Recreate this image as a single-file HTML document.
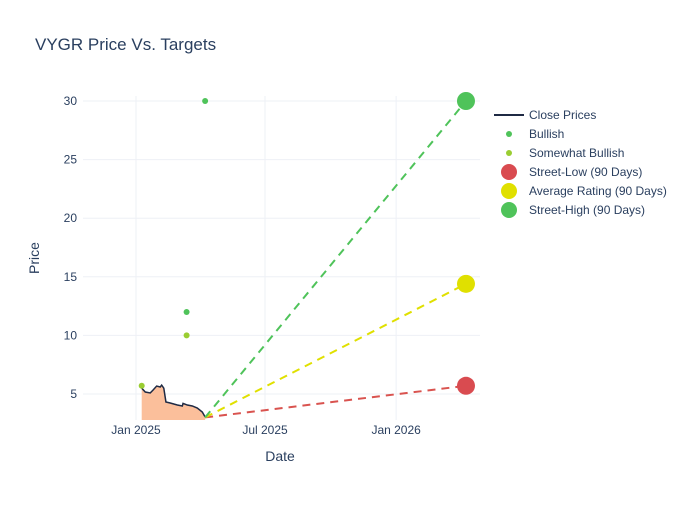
<!DOCTYPE html>
<html><head><meta charset="utf-8"><style>
body{margin:0;background:#fff;font-family:"Liberation Sans",sans-serif;}
svg text{font-family:"Liberation Sans",sans-serif;fill:#2a3f5f;}
</style></head><body>
<svg id="c" width="700" height="500">
<text x="35" y="50" font-size="17">VYGR Price Vs. Targets</text>
<g id="grid"></g><g id="marks"></g><g id="axes"></g>
<text x="280" y="461" font-size="14" text-anchor="middle">Date</text>
<text x="39" y="258" font-size="14" text-anchor="middle" transform="rotate(-90 39 258)">Price</text>
<g id="legend"></g>
</svg>
<script>
const closeDates=["2025-01-09","2025-01-14","2025-01-21","2025-01-25","2025-01-30","2025-02-04","2025-02-06","2025-02-09","2025-02-12","2025-02-18","2025-02-28","2025-03-07","2025-03-08","2025-03-14","2025-03-21","2025-03-28","2025-04-04","2025-04-08"];
const closeValues=[5.5,5.17,5.09,5.34,5.68,5.6,5.76,5.5,4.32,4.23,4.06,3.98,4.2,4.06,3.98,3.8,3.46,3.04];
const bullishDates=["2025-03-13","2025-04-08"];
const bullishValues=[12,30];
const somewhatDates=["2025-01-09","2025-03-13"];
const somewhatValues=[5.7,10];
const targetStart=["2025-04-08",3.0];
const targetDate="2026-04-09";
const targetLow=5.7, targetAvg=14.4, targetHigh=30;
const yTicks=[5,10,15,20,25,30];
const xTicks=["2025-01-01","2025-07-01","2026-01-01"];
const xTickLabels=["Jan 2025","Jul 2025","Jan 2026"];

const NS="http://www.w3.org/2000/svg";
const L=83,R=480,T=101,B=420;
const d0=Date.parse("2025-01-01");
function day(s){return (Date.parse(s)-d0)/864e5;}
function X(s){return 136+day(s)*(129/181);}
function Y(v){return 101+(30-v)*(58.6/5);}
function el(tag,attrs,parent){const e=document.createElementNS(NS,tag);for(const k in attrs)e.setAttribute(k,attrs[k]);parent.appendChild(e);return e;}
const grid=document.getElementById('grid'),marks=document.getElementById('marks'),axes=document.getElementById('axes'),leg=document.getElementById('legend');
yTicks.forEach(v=>{
 const l=el('line',{x1:L,x2:R,y1:Y(v),y2:Y(v),stroke:'#eef0f6'},grid);
 
 
 const t=el('text',{x:77,y:Y(v)+4,'font-size':12,'text-anchor':'end'},axes);t.textContent=v;
 
 
});
xTicks.forEach((d,i)=>{
 const l=el('line',{x1:X(d),x2:X(d),y1:T-5,y2:B,stroke:'#eef0f6'},grid);
 
 
 const t=el('text',{x:X(d),y:B+14,'font-size':12,'text-anchor':'middle'},axes);t.textContent=xTickLabels[i];
 
 
});
// area + line
let pts=closeDates.map((d,i)=>X(d)+','+Y(closeValues[i]));
const area=el('polygon',{points:X(closeDates[0])+','+B+' '+pts.join(' ')+' '+X(closeDates[closeDates.length-1])+','+B,fill:'#fbbf9b'},marks);


const line=el('polyline',{points:pts.join(' '),fill:'none',stroke:'#1f2a44','stroke-width':1.5},marks);


// target lines
[[targetLow,'#d9534f','street-low'],[targetAvg,'#e0e000','average-rating'],[targetHigh,'#4fc35a','street-high']].forEach(([v,c,n])=>{
 const l=el('line',{x1:X(targetStart[0]),y1:Y(targetStart[1]),x2:X(targetDate),y2:Y(v),stroke:c,'stroke-width':2,'stroke-dasharray':'8,6'},marks);
 
 
});
[[targetLow,'#d94b50','street-low'],[targetAvg,'#e0e000','average-rating'],[targetHigh,'#4fc35a','street-high']].forEach(([v,c,n])=>{
 const m=el('circle',{cx:X(targetDate),cy:Y(v),r:9,fill:c},marks);
 
 
});
bullishDates.forEach((d,i)=>{
 const m=el('circle',{cx:X(d),cy:Y(bullishValues[i]),r:3,fill:'#4fc35a'},marks);
 
 
});
somewhatDates.forEach((d,i)=>{
 const m=el('circle',{cx:X(d),cy:Y(somewhatValues[i]),r:3,fill:'#9acd32'},marks);
 
 
});
// legend
const items=[["Close Prices","line","#1f2a44"],["Bullish",3,"#4fc35a"],["Somewhat Bullish",3,"#9acd32"],["Street-Low (90 Days)",8,"#d94b50"],["Average Rating (90 Days)",8,"#e0e000"],["Street-High (90 Days)",8,"#4fc35a"]];
items.forEach((it,i)=>{
 const y=115+i*19;
 const g=el('g',{},leg);
 
 
 if(it[1]==="line")el('line',{x1:494,x2:524,y1:y,y2:y,stroke:it[2],'stroke-width':2},g);
 else el('circle',{cx:509,cy:y,r:it[1],fill:it[2]},g);
 const t=el('text',{x:529,y:y+4,'font-size':12},g);t.textContent=it[0];
});
</script>
</body></html>
